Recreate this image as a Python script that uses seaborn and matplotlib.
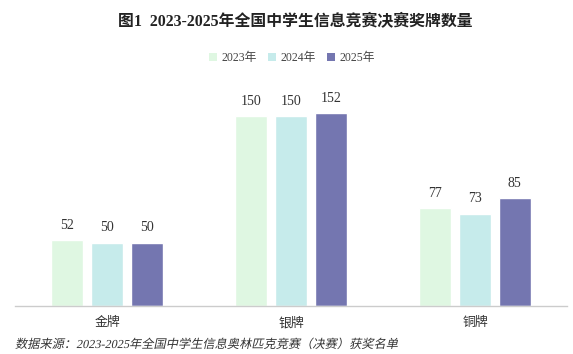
import matplotlib
matplotlib.use("Agg")
import matplotlib.pyplot as plt
import seaborn as sns
import pandas as pd
from matplotlib.patches import Patch
from matplotlib.patheffects import AbstractPathEffect
from matplotlib.transforms import Affine2D

categories = ["金牌", "银牌", "铜牌"]
years = ["2023年", "2024年", "2025年"]
values_2023 = [52, 150, 77]
values_2024 = [50, 150, 73]
values_2025 = [50, 152, 85]

colors = ["#dff7e2", "#c6ebeb", "#7476b0"]

df = pd.DataFrame({
    "category": categories * 3,
    "year": [years[0]] * 3 + [years[1]] * 3 + [years[2]] * 3,
    "value": values_2023 + values_2024 + values_2025,
})


class Slant(AbstractPathEffect):
    def __init__(self, deg=12):
        super().__init__()
        self.deg = deg

    def draw_path(self, renderer, gc, tpath, affine, rgbFace=None):
        renderer.draw_path(gc, tpath, Affine2D().skew_deg(self.deg, 0) + affine, rgbFace)


sns.set_theme(style="white")
plt.rcParams["font.family"] = ["Liberation Serif", "Noto Sans CJK SC", "DejaVu Sans"]

fig = plt.figure(figsize=(5.73, 3.54), dpi=100)
ax = fig.add_axes([15 / 573, 48 / 354, 552 / 573, 228 / 354])

sns.barplot(data=df, x="category", y="value", hue="year", palette=colors,
            width=0.65, gap=0.19, ax=ax, legend=False, saturation=1)

for cont in ax.containers:
    ax.bar_label(cont, padding=6, fontsize=10, color="#333333")

ax.set_xlim(-0.5, 2.5)
ax.set_ylim(0, 180)
ax.set_xlabel("")
ax.set_ylabel("")
ax.set_yticks([])
for s in ["top", "right", "left"]:
    ax.spines[s].set_visible(False)
ax.spines["bottom"].set_color("#cccccc")
ax.spines["bottom"].set_linewidth(1)
ax.tick_params(axis="x", length=0, pad=8, labelsize=9.3, labelcolor="#333333")

handles = [Patch(facecolor=c, edgecolor="none") for c in colors]
fig.legend(handles, years, loc="center", bbox_to_anchor=(292 / 573, 1 - 58 / 354),
           ncol=3, frameon=False, fontsize=8.5, handlelength=0.7, handleheight=0.7,
           handletextpad=0.4, columnspacing=0.9, labelcolor="#444444")

fig.text(295 / 573, 1 - 22 / 354, "图1  2023-2025年全国中学生信息竞赛决赛奖牌数量",
         ha="center", va="center", fontsize=11.4, fontweight="bold", color="#222222")

fig.text(15 / 573, 1 - 345 / 354, "数据来源：2023-2025年全国中学生信息奥林匹克竞赛（决赛）获奖名单",
         ha="left", va="center", fontsize=8.8, color="#333333", path_effects=[Slant(12)])

fig.savefig("out.png", dpi=100)
